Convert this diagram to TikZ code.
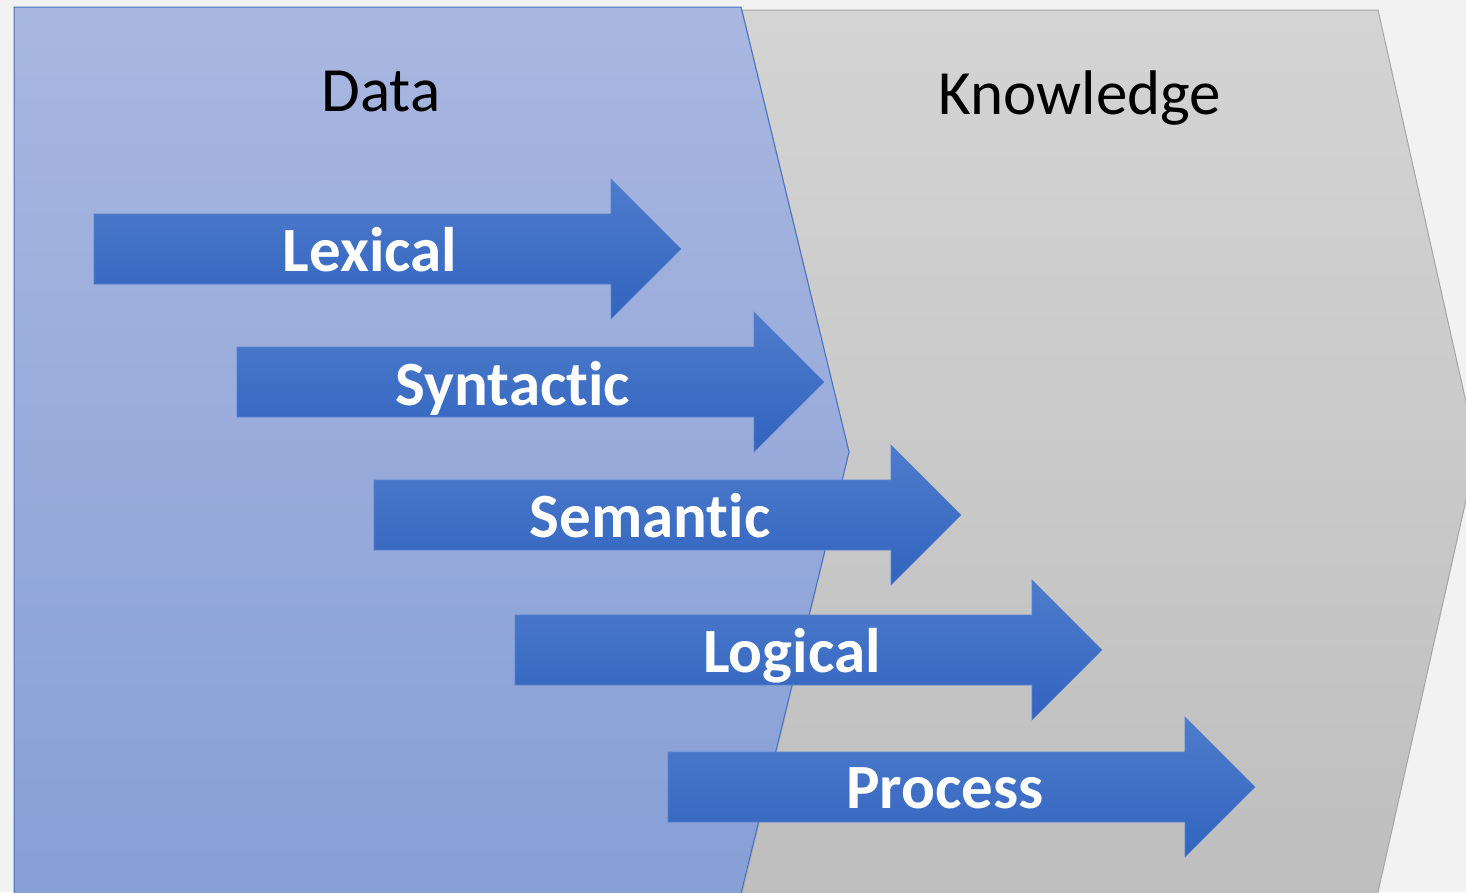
\documentclass[tikz,border=0pt]{standalone}
\usepackage{fontspec}
\setmainfont[Ligatures=NoCommon]{Carlito}
\definecolor{bgc}{HTML}{F2F2F2}
\definecolor{blueTop}{HTML}{A9B7E0}
\definecolor{blueBot}{HTML}{879FD6}
\definecolor{blueLine}{HTML}{4472C4}
\definecolor{grayTop}{HTML}{D4D4D4}
\definecolor{grayBot}{HTML}{BEBEBE}
\definecolor{grayLine}{HTML}{A6A6A6}
\definecolor{arrTop}{HTML}{4E7CCC}
\definecolor{arrBot}{HTML}{3264BF}
\definecolor{arrLine}{HTML}{5A82CC}
\tikzset{
  arrowbody/.style={top color=arrTop, bottom color=arrBot, draw=arrLine, line width=0.6pt},
  lbl/.style={font=\bfseries\fontsize{63}{63}\selectfont, text=white, anchor=base, inner sep=0pt},
  ttl/.style={font=\fontsize{63}{63}\selectfont, text=black, anchor=base, inner sep=0pt}
}
\newcommand\stagearrow[2]{%
  \path[arrowbody] ({#1},{#2-35}) -- ({#1+517},{#2-35}) -- ({#1+517},{#2-70}) -- ({#1+587},{#2})
    -- ({#1+517},{#2+70}) -- ({#1+517},{#2+35}) -- ({#1},{#2+35}) -- cycle;}
\begin{document}
\begin{tikzpicture}[x=1pt,y=-1pt]
  \useasboundingbox (0,0) rectangle (1466,892);
  \fill[bgc] (0,0) rectangle (1466,892);
  \clip (0,0) rectangle (1466,892);
  % knowledge chevron
  \path[top color=grayTop, bottom color=grayBot, draw=grayLine, line width=1pt]
    (742,10) -- (1378,10) -- (1477,451) -- (1374,910) -- (738,910) -- (849,452) -- cycle;
  % data region
  \path[top color=blueTop, bottom color=blueBot, draw=blueLine, line width=1pt]
    (14,7) -- (741,7) -- (849,452) -- (737,910) -- (14,910) -- cycle;
  \node[ttl] (data) at (381,111) {Data};
  \node[ttl] (know) at (1080,114) {Knowledge};
  % arrows
  \stagearrow{94}{249}
  \stagearrow{237}{382}
  \stagearrow{374}{515}
  \stagearrow{515}{650}
  \stagearrow{668}{787}
  \node[lbl] (lex) at (370,271) {Lexical};
  \node[lbl] (syn) at (513,405) {Syntactic};
  \node[lbl] (sem) at (650,537) {Semantic};
  \node[lbl] (log) at (792,672) {Logical};
  \node[lbl] (pro) at (945,808) {Process};
\end{tikzpicture}
\end{document}
